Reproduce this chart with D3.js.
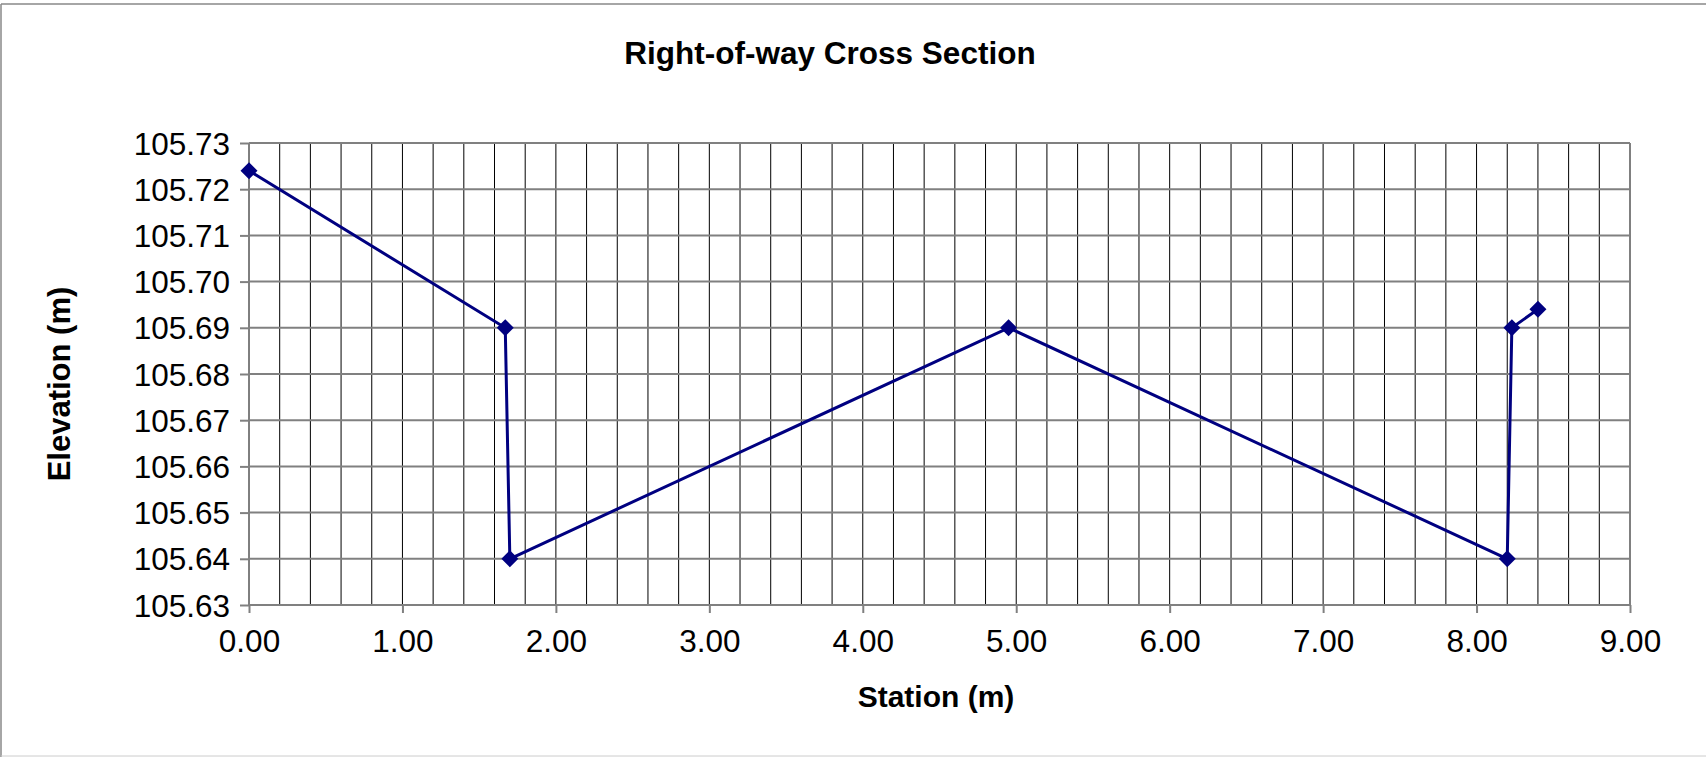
<!DOCTYPE html>
<html>
<head>
<meta charset="utf-8">
<script src="https://cdn.jsdelivr.net/npm/d3@7"></script>
<style>
  body { margin: 0; background: #fff; }
  text { font-family: "Liberation Sans", Arial, sans-serif; fill: #000; }
</style>
</head>
<body>
<script>
// data
var station = [0.00, 1.67, 1.70, 4.95, 8.20, 8.23, 8.40];
var elevation = [105.724, 105.69, 105.64, 105.69, 105.64, 105.69, 105.694];
var xTicks = [0, 1, 2, 3, 4, 5, 6, 7, 8, 9];
var yTicks = [105.63, 105.64, 105.65, 105.66, 105.67, 105.68, 105.69, 105.70, 105.71, 105.72, 105.73];
var xMinor = d3.range(0, 46).map(function (i) { return i * 0.2; });

var W = 1706, H = 757;
var margin = { left: 249, right: 76, top: 143, bottom: 152 },
    width = W - margin.left - margin.right,
    height = H - margin.top - margin.bottom;

var svg = d3.select("body").append("svg")
    .attr("width", W)
    .attr("height", H);

// outer chart frame
svg.append("line").attr("x1", 1).attr("x2", W).attr("y1", 4).attr("y2", 4)
    .attr("stroke", "#888").attr("stroke-width", 1.5);
svg.append("line").attr("x1", 1).attr("x2", 1).attr("y1", 4).attr("y2", H)
    .attr("stroke", "#888").attr("stroke-width", 1.5);
svg.append("line").attr("x1", 1).attr("x2", W).attr("y1", 756).attr("y2", 756)
    .attr("stroke", "#ccc").attr("stroke-width", 1);

var x = d3.scaleLinear().domain([0, 9]).range([0, width]);
var y = d3.scaleLinear().domain([105.63, 105.73]).range([height, 0]);

var g = svg.append("g").attr("transform", "translate(" + margin.left + "," + margin.top + ")");

// vertical grid (black, every 0.2)
g.append("g").selectAll("line")
    .data(xMinor)
    .enter().append("line")
    .attr("x1", function (d) { return x(d); })
    .attr("x2", function (d) { return x(d); })
    .attr("y1", 0).attr("y2", height)
    .attr("stroke", function (d, i) { return i == xMinor.length - 1 ? "#808080" : "#000"; })
    .attr("stroke-width", function (d, i) { return i == xMinor.length - 1 ? 2 : 1; });

// horizontal grid (gray)
g.append("g").selectAll("line")
    .data(yTicks)
    .enter().append("line")
    .attr("x1", 0).attr("x2", width)
    .attr("y1", function (d) { return y(d); })
    .attr("y2", function (d) { return y(d); })
    .attr("stroke", "#808080")
    .attr("stroke-width", 2);

// y axis
var yAxis = g.append("g")
    .call(d3.axisLeft(y).tickValues(yTicks).tickFormat(d3.format(".2f")).tickSize(9).tickPadding(10));
yAxis.select(".domain").remove();
yAxis.selectAll(".tick line").attr("stroke", "#808080").attr("stroke-width", 2);
yAxis.selectAll(".tick text")
    .attr("font-size", 31.5)
    .attr("font-family", "Liberation Sans, Arial, sans-serif")
    .attr("dy", "0.35em");

// x axis
var xAxis = g.append("g")
    .attr("transform", "translate(0," + height + ")")
    .call(d3.axisBottom(x).tickValues(xTicks).tickFormat(d3.format(".2f")).tickSize(8).tickPadding(17));
xAxis.select(".domain").remove();
xAxis.selectAll(".tick line").attr("stroke", "#808080").attr("stroke-width", 2);
xAxis.selectAll(".tick text")
    .attr("font-size", 31.5)
    .attr("font-family", "Liberation Sans, Arial, sans-serif");

// series line
var pts = station.map(function (s, i) { return [s, elevation[i]]; });
var line = d3.line()
    .x(function (d) { return x(d[0]); })
    .y(function (d) { return y(d[1]); });

g.append("path")
    .datum(pts)
    .attr("d", line)
    .attr("fill", "none")
    .attr("stroke", "#000080")
    .attr("stroke-width", 3);

// diamond markers
g.selectAll(".marker")
    .data(pts)
    .enter().append("path")
    .attr("class", "marker")
    .attr("transform", function (d) { return "translate(" + x(d[0]) + "," + y(d[1]) + ")"; })
    .attr("d", "M0,-8.5L8.5,0L0,8.5L-8.5,0Z")
    .attr("fill", "#000080");

// titles
svg.append("text")
    .attr("x", 830).attr("y", 64)
    .attr("text-anchor", "middle")
    .attr("font-size", 31.5)
    .attr("font-weight", "bold")
    .text("Right-of-way Cross Section");

svg.append("text")
    .attr("x", 936).attr("y", 707)
    .attr("text-anchor", "middle")
    .attr("font-size", 30)
    .attr("font-weight", "bold")
    .text("Station (m)");

svg.append("text")
    .attr("transform", "translate(70,384) rotate(-90)")
    .attr("text-anchor", "middle")
    .attr("font-size", 31)
    .attr("font-weight", "bold")
    .text("Elevation (m)");
</script>
</body>
</html>
